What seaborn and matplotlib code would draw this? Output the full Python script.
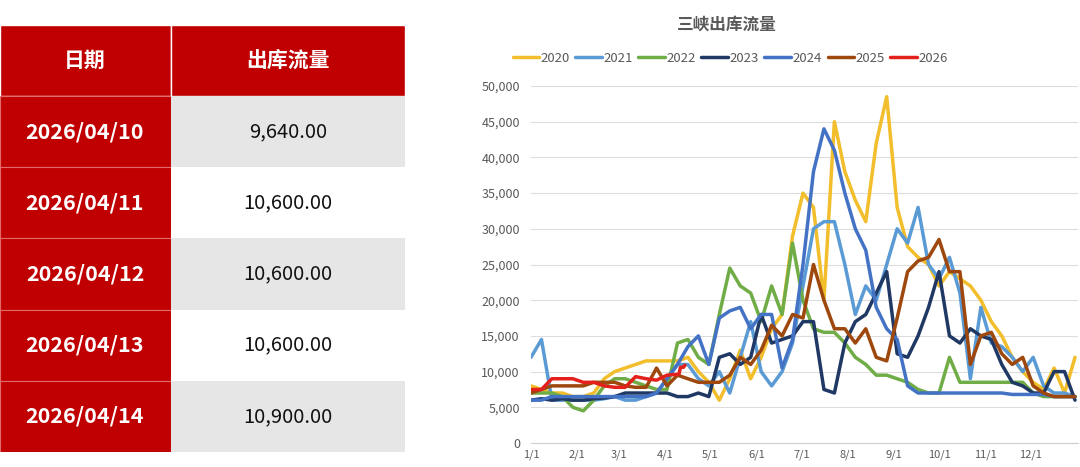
import pandas as pd
import numpy as np
import matplotlib.pyplot as plt
import seaborn as sns
from matplotlib.patches import Rectangle
from matplotlib.ticker import FuncFormatter

# table on the left
table_dates = ['2026/04/10', '2026/04/11', '2026/04/12', '2026/04/13', '2026/04/14']
table_flow = [9640, 10600, 10600, 10600, 10900]
table_days = [99, 100, 101, 102, 103]  # day of year (1/1 = 0)

# weekly readings of the outflow, day of year
days = list(range(0, 365, 7))
years = ['2020', '2021', '2022', '2023', '2024', '2025', '2026']

flow_2020 = [8000, 7500, 7000, 7000, 6500, 6500, 7000, 9000, 10000, 10500,
             11000, 11500, 11500, 11500, 11500, 12000, 10000, 8500, 6000, 9000,
             13000, 9000, 12000, 16000, 18000, 29000, 35000, 33000, 20000, 45000,
             38000, 34000, 31000, 42000, 48500, 33000, 27500, 26000, 25000, 22000,
             24000, 23000, 22000, 20000, 17000, 15000, 12000, 10000, 8500, 7500,
             10500, 7000, 12000]
flow_2021 = [12000, 14500, 6000, 6000, 6000, 6000, 6000, 6200, 6500, 6000,
             6000, 6500, 7000, 9000, 11000, 11000, 9000, 8000, 10000, 7000,
             12000, 17000, 10000, 8000, 10000, 14000, 22000, 30000, 31000, 31000,
             25000, 18000, 22000, 20000, 25000, 30000, 28000, 33000, 25000, 23000,
             26000, 21000, 9000, 19000, 14000, 13500, 12000, 10000, 12000, 8000,
             7000, 7000, 6500]
flow_2022 = [7000, 7000, 7000, 6500, 5000, 4500, 6000, 8000, 9000, 9000,
             8500, 8000, 7500, 7500, 14000, 14500, 12000, 11000, 18000, 24500,
             22000, 21000, 17000, 22000, 18000, 28000, 20000, 16000, 15500, 15500,
             14000, 12000, 11000, 9500, 9500, 9000, 8500, 7500, 7000, 7000,
             12000, 8500, 8500, 8500, 8500, 8500, 8500, 8500, 7000, 6500,
             6500, 6500, 6500]
flow_2023 = [6000, 6200, 6000, 6200, 6000, 6000, 6200, 6300, 6500, 7000,
             7000, 7000, 7000, 7000, 6500, 6500, 7000, 6500, 12000, 12500,
             11000, 12000, 18000, 14000, 14500, 15000, 17000, 17000, 7500, 7000,
             14000, 17000, 18000, 21000, 24000, 12500, 12000, 15000, 19000, 24000,
             15000, 14000, 16000, 15000, 14500, 11000, 8500, 8000, 7000, 7000,
             10000, 10000, 6000]
flow_2024 = [6000, 6000, 6500, 6500, 6500, 6500, 6500, 6500, 6500, 6500,
             6500, 6500, 7000, 9000, 11000, 13500, 15000, 11000, 17500, 18500,
             19000, 16000, 18000, 18000, 10500, 14500, 25000, 38000, 44000, 41000,
             35000, 30000, 27000, 19000, 16000, 14500, 8000, 7000, 7000, 7000,
             7000, 7000, 7000, 7000, 7000, 7000, 6800, 6800, 6800, 6800,
             6500, 6500, 6500]
flow_2025 = [7000, 7500, 8000, 8000, 8000, 8000, 8500, 8500, 8500, 8000,
             7800, 7800, 10500, 8000, 9500, 9000, 8500, 8500, 8500, 9500,
             12000, 11000, 13000, 16500, 15000, 18000, 17500, 25000, 20000, 16000,
             16000, 14000, 16000, 12000, 11500, 17500, 24000, 25500, 26000, 28500,
             24000, 24000, 11000, 15000, 15500, 12500, 11000, 12000, 8000, 7000,
             6500, 6500, 6500]
days_2026 = list(range(0, 92, 7)) + table_days
flow_2026 = [7500, 7500, 9000, 9000, 9000, 8500, 8500, 8000, 7800, 7800,
             9300, 9000, 8800, 9500] + table_flow

month_days = [0, 31, 59, 90, 120, 151, 181, 212, 243, 273, 304, 334]
month_labels = ['1/1', '2/1', '3/1', '4/1', '5/1', '6/1', '7/1', '8/1', '9/1', '10/1', '11/1', '12/1']

colors = {'2020': '#F2BE2C', '2021': '#5B9BD5', '2022': '#70AD47', '2023': '#1F3864',
          '2024': '#4472C4', '2025': '#9E480E', '2026': '#E3201B'}

series = [flow_2020, flow_2021, flow_2022, flow_2023, flow_2024, flow_2025]
frames = [pd.DataFrame({'day': days, 'flow': s, 'year': y}) for y, s in zip(years[:-1], series)]
frames.append(pd.DataFrame({'day': days_2026, 'flow': flow_2026, 'year': '2026'}))
df = pd.concat(frames, ignore_index=True)

sns.set_style('white')
plt.rcParams['font.family'] = ['Noto Sans CJK SC', 'DejaVu Sans']

fig = plt.figure(figsize=(10.8, 4.67), dpi=100)

# ---- table ----
ax_t = fig.add_axes([0, 15 / 467, 405 / 1080, 427 / 467])
ax_t.set_xlim(0, 405)
ax_t.set_ylim(6, 0)
ax_t.axis('off')
red = '#C00000'
ax_t.add_patch(Rectangle((0, 0), 171, 1, facecolor=red, edgecolor='white', lw=1))
ax_t.add_patch(Rectangle((171, 0), 234, 1, facecolor=red, edgecolor='white', lw=1))
ax_t.text(85, 0.5, '日期', ha='center', va='center', color='white', fontsize=15, fontweight='bold')
ax_t.text(288, 0.5, '出库流量', ha='center', va='center', color='white', fontsize=15, fontweight='bold')
for i, (d, v) in enumerate(zip(table_dates, table_flow)):
    r = i + 1
    ax_t.add_patch(Rectangle((0, r), 171, 1, facecolor=red, edgecolor='#E36B6B', lw=0.8))
    bg = '#E7E6E6' if i % 2 == 0 else 'white'
    ax_t.add_patch(Rectangle((171, r), 234, 1, facecolor=bg, edgecolor='none'))
    ax_t.text(85, r + 0.5, d, ha='center', va='center', color='white', fontsize=15.5, fontweight='bold')
    ax_t.text(288, r + 0.5, f'{v:,.2f}', ha='center', va='center', color='#111111', fontsize=14.5)

# ---- line chart ----
ax = fig.add_axes([531 / 1080, 24 / 467, 547 / 1080, 357 / 467])
sns.lineplot(data=df, x='day', y='flow', hue='year', hue_order=years, palette=colors,
             linewidth=2.5, ax=ax, legend=True)
ax.set_xlim(0, 366)
ax.set_ylim(0, 50000)
ax.set_yticks(range(0, 50001, 5000))
ax.yaxis.set_major_formatter(FuncFormatter(lambda v, p: f'{v:,.0f}'))
ax.set_xticks(month_days)
ax.set_xticklabels(month_labels)
ax.grid(axis='y', color='#DDDDDD', lw=0.8)
ax.set_axisbelow(True)
for s in ['top', 'right', 'left']:
    ax.spines[s].set_visible(False)
ax.spines['bottom'].set_color('#D0D0D0')
ax.tick_params(axis='y', labelsize=9, colors='#595959', length=0, pad=8)
ax.tick_params(axis='x', labelsize=8, colors='#595959', length=3, color='#D0D0D0', pad=2)
ax.set_xlabel('')
ax.set_ylabel('')

handles, labels = ax.get_legend_handles_labels()
ax.get_legend().remove()
fig.legend(handles, labels, loc='center', bbox_to_anchor=(730 / 1080, 1 - 58 / 467), ncol=7,
           frameon=False, fontsize=9.5, handlelength=2.0, handletextpad=0.1, columnspacing=0.45,
           labelcolor='#595959')
fig.text(727 / 1080, 1 - 25 / 467, '三峡出库流量', ha='center', va='center', fontsize=12,
         fontweight='bold', color='#595959')

plt.savefig('out.png', dpi=100)
